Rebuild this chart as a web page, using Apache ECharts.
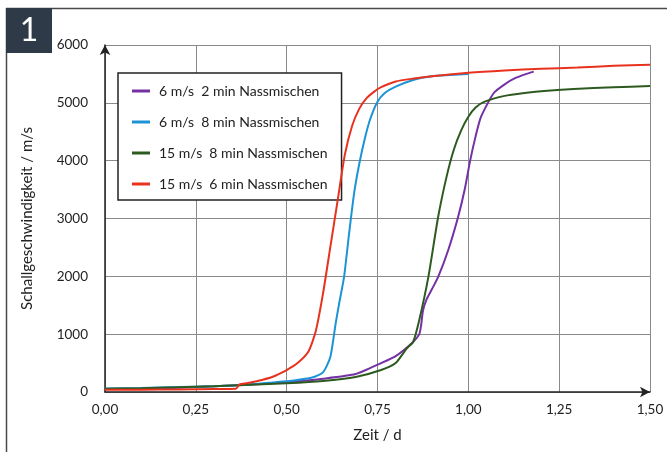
<!DOCTYPE html>
<html>
<head>
<meta charset="utf-8">
<script src="https://cdn.jsdelivr.net/npm/echarts@6/dist/echarts.min.js"></script>
<style>html,body{margin:0;padding:0;background:#fff}#c{width:667px;height:452px}</style>
</head>
<body>
<div id="c"></div>
<script>
// Series names (legend)
const seriesNames = ['6 m/s  2 min Nassmischen', '6 m/s  8 min Nassmischen', '15 m/s  8 min Nassmischen', '15 m/s  6 min Nassmischen'];

// Zeit / d and Schallgeschwindigkeit / m/s per series
const timePurple = [0, 0.1, 0.2, 0.3, 0.4, 0.5, 0.6, 0.69, 0.76, 0.8, 0.848, 0.865, 0.87, 0.875, 0.885, 0.9, 0.917, 0.945, 0.972, 0.99, 1.005, 1.02, 1.035, 1.07, 1.1, 1.13, 1.16, 1.18];
const purple     = [50, 60, 75, 100, 130, 170, 230, 310, 500, 620, 865, 1000, 1150, 1400, 1600, 1780, 1990, 2460, 3030, 3500, 4000, 4420, 4760, 5170, 5320, 5430, 5500, 5540];

const timeBlue = [0, 0.1, 0.2, 0.3, 0.4, 0.45, 0.52, 0.57, 0.6, 0.62, 0.635, 0.645, 0.658, 0.672, 0.686, 0.7, 0.715, 0.73, 0.75, 0.77, 0.8, 0.85, 0.9, 0.95, 1.0];
const blue     = [60, 70, 85, 100, 130, 160, 200, 250, 340, 600, 1190, 1550, 1990, 2750, 3450, 3950, 4380, 4720, 5020, 5170, 5280, 5400, 5460, 5480, 5500];

const timeGreen = [0, 0.1, 0.2, 0.3, 0.4, 0.5, 0.6, 0.69, 0.76, 0.8, 0.83, 0.848, 0.865, 0.89, 0.917, 0.94, 0.96, 0.98, 1.0, 1.02, 1.045, 1.1, 1.155, 1.2, 1.29, 1.4, 1.5];
const green     = [55, 65, 80, 100, 125, 150, 190, 260, 380, 500, 750, 865, 1245, 1990, 3030, 3720, 4190, 4520, 4760, 4920, 5020, 5120, 5170, 5200, 5240, 5270, 5290];

const timeRed = [0, 0.1, 0.2, 0.3, 0.36, 0.37, 0.39, 0.42, 0.46, 0.5, 0.53, 0.56, 0.58, 0.6, 0.62, 0.64, 0.66, 0.68, 0.7, 0.72, 0.74, 0.76, 0.8, 0.85, 0.9, 1.0, 1.1, 1.2, 1.3, 1.4, 1.5];
const red     = [40, 40, 45, 50, 55, 130, 150, 190, 260, 380, 500, 700, 1050, 1700, 2500, 3300, 4100, 4600, 4900, 5080, 5190, 5270, 5370, 5420, 5460, 5520, 5560, 5590, 5610, 5640, 5660];

// Axis ticks
const xTicks = [0, 0.25, 0.5, 0.75, 1.0, 1.25, 1.5];
const yTicks = [0, 1000, 2000, 3000, 4000, 5000, 6000];

const colors = ['#7431a3', '#1c93d6', '#2d5b1f', '#e8321e'];
const times = [timePurple, timeBlue, timeGreen, timeRed];
const values = [purple, blue, green, red];

const FONT = 'Lato';
const chart = echarts.init(document.getElementById('c'));
chart.setOption({
  animation: false,
  backgroundColor: '#fff',
  textStyle: { fontFamily: FONT },
  grid: { left: 105, top: 45, right: 17, bottom: 60 },
  legend: {
    orient: 'vertical',
    left: 118, top: 73,
    padding: [11, 14, 9, 14],
    itemGap: 17,
    itemWidth: 18, itemHeight: 3,
    icon: 'rect',
    backgroundColor: '#fff',
    borderColor: '#222', borderWidth: 1.5,
    textStyle: { fontFamily: FONT, fontSize: 14, color: '#222', padding: [0, 0, 0, 4] },
    data: seriesNames
  },
  xAxis: {
    type: 'value',
    min: xTicks[0], max: xTicks[xTicks.length - 1], interval: 0.25,
    name: 'Zeit / d', nameLocation: 'middle', nameGap: 36,
    nameTextStyle: { fontSize: 15, color: '#222', fontFamily: FONT },
    axisLine: { lineStyle: { color: '#222', width: 1.5 }, symbol: ['none', 'arrow'], symbolSize: [8, 10] },
    axisTick: { show: false },
    axisLabel: { fontSize: 13.5, color: '#222', margin: 11, formatter: v => v.toFixed(2).replace('.', ',') },
    splitLine: { show: true, lineStyle: { color: '#8a8a8a', width: 1 } }
  },
  yAxis: {
    type: 'value',
    min: yTicks[0], max: yTicks[yTicks.length - 1], interval: 1000,
    name: 'Schallgeschwindigkeit / m/s', nameLocation: 'middle', nameGap: 70, nameRotate: 90,
    nameTextStyle: { fontSize: 15, color: '#222', fontFamily: FONT },
    axisLine: { show: true, lineStyle: { color: '#222', width: 1.5 }, symbol: ['none', 'arrow'], symbolSize: [8, 10] },
    axisTick: { show: false },
    axisLabel: { fontSize: 13.5, color: '#222', margin: 17, formatter: v => String(v) },
    splitLine: { show: true, lineStyle: { color: '#8a8a8a', width: 1 } }
  },
  series: seriesNames.map((n, i) => ({
    name: n,
    type: 'line',
    showSymbol: false,
    symbol: 'none',
    smooth: 0.2,
    color: colors[i],
    lineStyle: { color: colors[i], width: 2 },
    data: times[i].map((t, j) => [t, values[i][j]]),
    z: 2 + i
  })),
  graphic: [
    { type: 'line', shape: { x1: 6.5, y1: 8, x2: 6.5, y2: 452 }, style: { stroke: '#4a4a4a', lineWidth: 1.5 } },
    { type: 'line', shape: { x1: 6, y1: 8.5, x2: 667, y2: 8.5 }, style: { stroke: '#4a4a4a', lineWidth: 1.5 } },
    { type: 'rect', shape: { x: 6, y: 8, width: 46, height: 45 }, style: { fill: '#2e3a47' } },
    { type: 'text', x: 29, y: 31, style: { text: '1', fill: '#fff', font: '32px ' + FONT, align: 'center', verticalAlign: 'middle' } }
  ]
});
</script>
</body>
</html>
